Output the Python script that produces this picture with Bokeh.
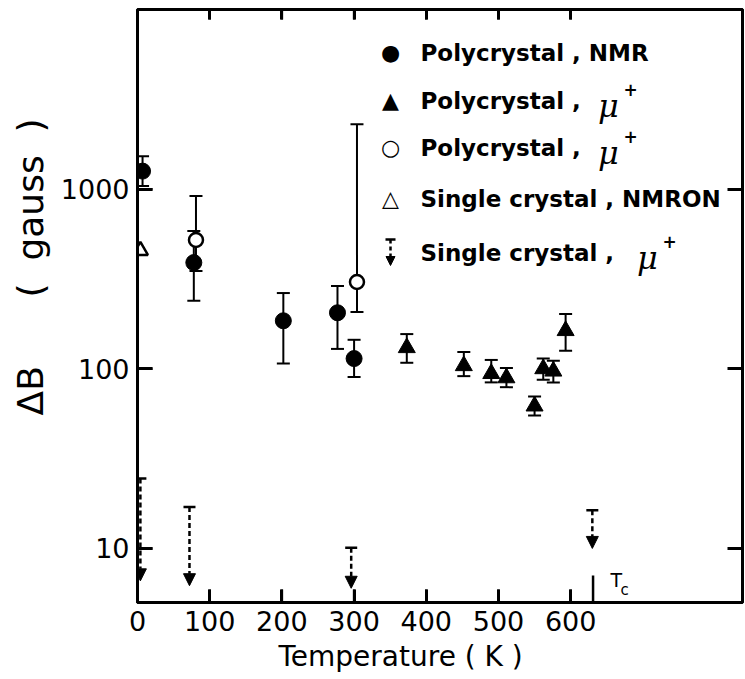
import math
from bokeh.plotting import figure
from bokeh.models import (ColumnDataSource, Whisker, TeeHead, NormalHead, Arrow, Label, Title,
                          FixedTicker, LinearAxis, LogAxis, Range1d)
from bokeh.embed import file_html
from bokeh.resources import INLINE

# Polycrystal, NMR (filled circles): temperature (K), field width (gauss), error limits
nmr_T = [7, 78, 202, 277, 300]
nmr_dB = [1260, 390, 185, 205, 114]
nmr_hi = [1525, 585, 264, 289, 145]
nmr_lo = [1040, 239, 107, 129, 90]

# Polycrystal, mu+ (filled triangles)
mu_T = [373, 452, 490, 511, 550, 562, 576, 593]
mu_dB = [131, 104, 94, 89, 62, 100, 97, 163]
mu_hi = [156, 124, 112, 101, 70, 114, 111, 202]
mu_lo = [108, 91, 84, 79, 55, 87, 84, 126]

# Polycrystal, mu+ (open circles)
muo_T = [81, 304]
muo_dB = [521, 304]
muo_hi = [915, 2300]
muo_lo = [350, 207]

# Single crystal, NMRON (open triangle)
nmron_T = [4]
nmron_dB = [455]

# Single crystal, mu+ : upper limits (dashed arrows from limit down)
lim_T = [4, 72, 296, 630]
lim_top = [24.5, 17, 10.1, 16.3]
lim_tip = [6.6, 6.2, 6.0, 10]

# Curie temperature marker
TC = 631

x_ticks = [0, 100, 200, 300, 400, 500, 600]
x_top_ticks = [100, 200, 300, 400, 500, 600]
y_ticks = [10, 100, 1000]

Y_MIN, Y_MAX = 5, 10000
X_MIN, X_MAX = 0, 838
DECADE_PX = 180.0  # pixel height of one decade on the log axis
K_PER_PX = 1 / 0.722  # kelvin per pixel on the temperature axis

FRAME_L, FRAME_B = 137, 602
NB = "\u00a0"


def sx(px):
    # screen x relative to the frame's left edge
    return px - FRAME_L


def sy(py):
    # screen y relative to the frame's bottom edge (upwards)
    return FRAME_B - py


def up_px(v, n):
    # value n pixels above v on the log axis
    return v * 10 ** (n / DECADE_PX)


p = figure(width=745, height=679, x_range=Range1d(X_MIN, X_MAX), y_range=Range1d(Y_MIN, Y_MAX),
           y_axis_type="log", output_backend="svg", toolbar_location=None,
           min_border_left=137, min_border_right=3, min_border_top=9, min_border_bottom=77)
p.grid.visible = False
p.background_fill_color = "white"
p.border_fill_color = "white"
p.outline_line_color = "black"
p.outline_line_width = 3

TICK_FONT = "DejaVu Sans"


def style_axis(ax, ticks, tick_in, show_labels):
    ax.ticker = FixedTicker(ticks=ticks, minor_ticks=[])
    ax.axis_line_color = "black"
    ax.axis_line_width = 3
    ax.major_tick_in = tick_in
    ax.major_tick_out = 0
    ax.major_tick_line_width = 3
    ax.major_tick_line_color = "black"
    ax.minor_tick_line_color = None
    if show_labels:
        ax.major_label_text_font = TICK_FONT
        ax.major_label_text_font_size = "27px"
        ax.major_label_text_color = "black"
        ax.major_label_standoff = 8
        ax.major_label_overrides = {t: str(t) for t in ticks}
    else:
        ax.major_label_overrides = {t: "" for t in ticks}
        ax.major_label_text_font_size = "1px"
        ax.major_label_standoff = 0


style_axis(p.xaxis[0], x_ticks, 13, True)
style_axis(p.yaxis[0], y_ticks, 15, True)

top_ax = LinearAxis()
style_axis(top_ax, x_top_ticks, 10, False)
p.add_layout(top_ax, "above")

right_ax = LogAxis()
style_axis(right_ax, y_ticks, 15, False)
p.add_layout(right_ax, "right")

# axis titles
p.add_layout(Title(text="Temperature ( K )", align="left", offset=141, standoff=8,
                   text_font=TICK_FONT, text_font_size="28px", text_font_style="normal",
                   text_color="black"), "below")
p.add_layout(Title(text=f"ΔB{NB * 6}({NB * 2}gauss{NB * 2})", align="left", offset=187,
                   standoff=14, text_font=TICK_FONT, text_font_size="36px",
                   text_font_style="normal", text_color="black"), "left")

# error bars
for T, hi, lo in [(nmr_T, nmr_hi, nmr_lo), (mu_T, mu_hi, mu_lo), (muo_T, muo_hi, muo_lo)]:
    src = ColumnDataSource(dict(T=T, hi=hi, lo=lo))
    w = Whisker(source=src, base="T", upper="hi", lower="lo", line_width=2, line_color="black",
                upper_head=TeeHead(size=13, line_width=2, line_color="black"),
                lower_head=TeeHead(size=13, line_width=2, line_color="black"),
                level="underlay")
    p.add_layout(w)

p.scatter(nmr_T, nmr_dB, marker="circle", size=16, fill_color="black", line_color="black")
p.scatter(mu_T, mu_dB, marker="triangle", size=17, fill_color="black", line_color="black")
p.scatter(muo_T, muo_dB, marker="circle", size=14, fill_color="white", line_color="black",
          line_width=2.5)
p.scatter(nmron_T, nmron_dB, marker="triangle", size=15, fill_color="white", line_color="black",
          line_width=2.5)

# upper limits as dashed arrows
lim_src = ColumnDataSource(dict(T=lim_T, top=lim_top, tip=lim_tip))
p.add_layout(Arrow(source=lim_src, x_start="T", y_start="top", x_end="T", y_end="tip",
                   line_dash="5 3", line_width=2.5, line_color="black",
                   start=TeeHead(size=12, line_width=2.5, line_color="black"),
                   end=NormalHead(size=12, fill_color="black", line_color="black")))

# inward tick marks along the frame edges, drawn as headless arrows
bottom_src = ColumnDataSource(dict(x=x_ticks[1:], y0=[Y_MIN] * 6, y1=[up_px(Y_MIN, 13)] * 6))
top_src = ColumnDataSource(dict(x=x_top_ticks, y0=[Y_MAX] * 6, y1=[up_px(Y_MAX, -10)] * 6))
left_src = ColumnDataSource(dict(y=y_ticks, x0=[X_MIN] * 3, x1=[X_MIN + 15 * K_PER_PX] * 3))
p.add_layout(Arrow(source=bottom_src, x_start="x", y_start="y0", x_end="x", y_end="y1",
                   start=None, end=None, line_color="black", line_width=2.5))
p.add_layout(Arrow(source=top_src, x_start="x", y_start="y0", x_end="x", y_end="y1",
                   start=None, end=None, line_color="black", line_width=2.5))
p.add_layout(Arrow(source=left_src, x_start="x0", y_start="y", x_end="x1", y_end="y",
                   start=None, end=None, line_color="black", line_width=2.5))

# Tc marker on the temperature axis
p.add_layout(Arrow(x_start=TC, y_start=Y_MIN, x_end=TC, y_end=up_px(Y_MIN, 27),
                   start=None, end=None, line_color="black", line_width=2.5))
p.add_layout(Label(x=sx(610), y=sy(579), x_units="screen", y_units="screen", text="T",
                   text_font=TICK_FONT, text_font_size="19px", text_align="left",
                   text_baseline="middle", text_color="black"))
p.add_layout(Label(x=sx(620), y=sy(589), x_units="screen", y_units="screen", text="c",
                   text_font=TICK_FONT, text_font_size="15px", text_align="left",
                   text_baseline="middle", text_color="black"))

# key
rows = [52, 100, 147, 198, 252]
symbols = ["●", "▲", "○", "△"]
texts = ["Polycrystal , NMR", "Polycrystal ,", "Polycrystal ,", "Single crystal , NMRON",
         "Single crystal ,"]
for i, sym in enumerate(symbols):
    p.add_layout(Label(x=sx(390), y=sy(rows[i]), x_units="screen", y_units="screen", text=sym,
                       text_font=TICK_FONT, text_font_size="22px", text_align="center",
                       text_baseline="middle", text_color="black"))
for i, t in enumerate(texts):
    p.add_layout(Label(x=sx(420), y=sy(rows[i]), x_units="screen", y_units="screen", text=t,
                       text_font=TICK_FONT, text_font_style="bold", text_font_size="23px",
                       text_align="left", text_baseline="middle", text_color="black"))
for py, mx in [(rows[1], 608), (rows[2], 608), (rows[4], 647)]:
    p.add_layout(Label(x=sx(mx), y=sy(py + 5), x_units="screen", y_units="screen", text="μ",
                       text_font="DejaVu Serif", text_font_style="italic", text_font_size="32px",
                       text_align="center", text_baseline="middle", text_color="black"))
    p.add_layout(Label(x=sx(mx + 22), y=sy(py - 11), x_units="screen", y_units="screen",
                       text="+", text_font=TICK_FONT, text_font_style="bold",
                       text_font_size="17px", text_align="center", text_baseline="middle",
                       text_color="black"))
p.add_layout(Arrow(x_start=sx(390), y_start=sy(239), x_end=sx(390), y_end=sy(265),
                   start_units="screen", end_units="screen", line_dash="4 3", line_width=2.5,
                   line_color="black",
                   start=TeeHead(size=10, line_width=2.5, line_color="black"),
                   end=NormalHead(size=9, fill_color="black", line_color="black")))

open("out.html", "w").write(file_html(p, INLINE))
